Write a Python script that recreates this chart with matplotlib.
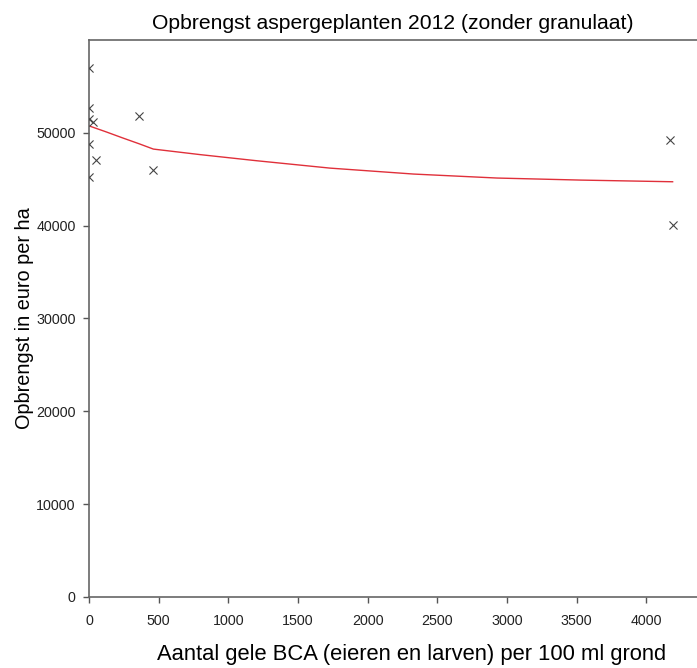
import numpy as np
import matplotlib
matplotlib.use("Agg")
import matplotlib.pyplot as plt

# meetpunten (aantal BCA, opbrengst)
bca = [0, 0, 0, 30, 360, 0, 50, 462, 0, 4171, 4190]
opbrengst = [56960, 52650, 51470, 51180, 51800, 48780, 47060, 45990, 45190, 49180, 40070]

# gefitte curve
fit_x = [0, 120, 240, 360, 462, 800, 1200, 1730, 2330, 2930, 3530, 4190]
fit_y = [50750, 50120, 49460, 48820, 48250, 47650, 47000, 46200, 45560, 45130, 44910, 44730]

xticks = [0, 500, 1000, 1500, 2000, 2500, 3000, 3500, 4000]
yticks = [0, 10000, 20000, 30000, 40000, 50000]

plt.rcParams['font.family'] = ['Liberation Sans', 'DejaVu Sans']

fig = plt.figure(figsize=(6.97, 6.68), dpi=100)
ax = fig.add_axes([89/697, 71/668, 608/697, 557/668])

ax.plot(fit_x, fit_y, color='#e0303a', lw=1.0)
ax.scatter(bca, opbrengst, marker='x', s=34, color='#444444', linewidths=0.8, zorder=3)

ax.set_xlim(0, 4365)
ax.set_ylim(0, 60000)
ax.set_xticks(xticks)
ax.set_yticks(yticks)
ax.tick_params(direction='out', length=4.5, width=1, pad=5, colors='#555555',
               labelcolor='#222222', labelsize=10.3)
ax.tick_params(axis='x', pad=7.5)

for s in ['left', 'bottom', 'top']:
    ax.spines[s].set_color('#666666')
    ax.spines[s].set_linewidth(1.2)
ax.spines['right'].set_visible(False)

ax.set_title('Opbrengst aspergeplanten 2012 (zonder granulaat)', fontsize=15.2, pad=8)
ax.set_xlabel('Aantal gele BCA (eieren en larven) per 100 ml grond', fontsize=15.8, labelpad=14)
ax.xaxis.set_label_coords(0.531, -0.085)
ax.set_ylabel('Opbrengst in euro per ha', fontsize=14.3, labelpad=2)

fig.savefig('out.png', dpi=100)
